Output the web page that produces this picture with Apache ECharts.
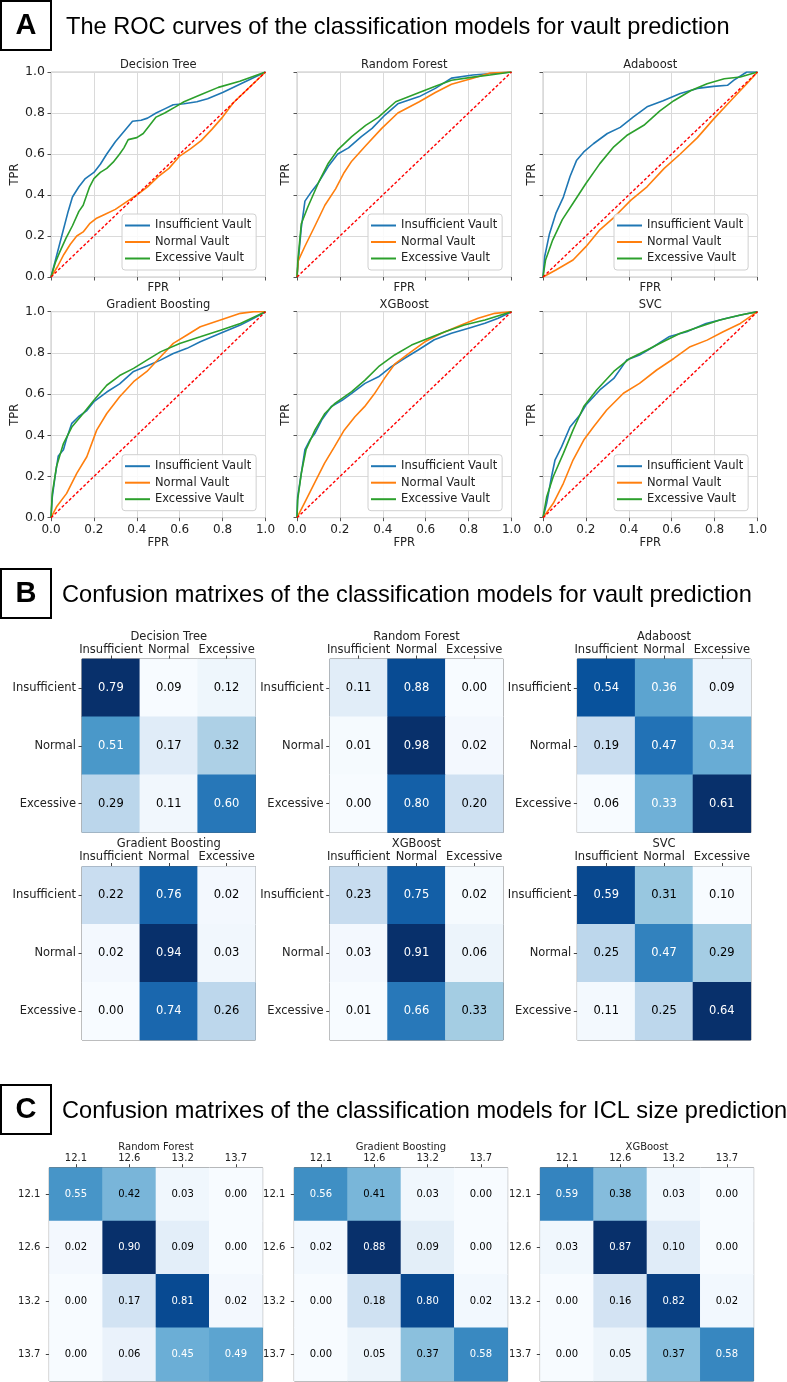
<!DOCTYPE html>
<html><head><meta charset="utf-8">
<script src="https://cdn.jsdelivr.net/npm/echarts@6/dist/echarts.min.js"></script>
<style>html,body{margin:0;padding:0;background:#fff}#c{width:787px;height:1382px}</style>
</head><body><div id="c"></div>
<script>
// ---------------- DATA ----------------
const ROC_MODELS = ['Decision Tree', 'Random Forest', 'Adaboost', 'Gradient Boosting', 'XGBoost', 'SVC'];
const ROC_CLASSES = ['Insufficient Vault', 'Normal Vault', 'Excessive Vault'];
const ROC_TICKS = [0, 0.2, 0.4, 0.6, 0.8, 1.0];

const dtInsufficient = [[0,0],[0.02,0.08],[0.05,0.20],[0.08,0.32],[0.10,0.39],[0.13,0.44],[0.16,0.48],[0.20,0.51],[0.23,0.55],[0.26,0.60],[0.30,0.66],[0.34,0.71],[0.38,0.76],[0.42,0.765],[0.45,0.775],[0.49,0.80],[0.53,0.82],[0.57,0.84],[0.62,0.845],[0.68,0.855],[0.73,0.87],[0.80,0.90],[0.90,0.95],[1,1]];
const dtNormal = [[0,0],[0.03,0.05],[0.06,0.11],[0.09,0.16],[0.12,0.20],[0.15,0.22],[0.18,0.26],[0.21,0.285],[0.25,0.305],[0.30,0.33],[0.35,0.365],[0.40,0.40],[0.45,0.44],[0.50,0.49],[0.55,0.53],[0.60,0.59],[0.65,0.625],[0.70,0.665],[0.75,0.72],[0.80,0.78],[0.85,0.85],[0.90,0.90],[1,1]];
const dtExcessive = [[0,0],[0.02,0.07],[0.04,0.12],[0.07,0.19],[0.10,0.25],[0.13,0.32],[0.15,0.35],[0.18,0.44],[0.20,0.48],[0.23,0.51],[0.26,0.53],[0.29,0.56],[0.32,0.60],[0.34,0.63],[0.36,0.67],[0.40,0.68],[0.43,0.70],[0.46,0.74],[0.49,0.78],[0.53,0.80],[0.58,0.83],[0.62,0.855],[0.70,0.89],[0.78,0.925],[0.88,0.955],[1,1]];

const rfInsufficient = [[0,0],[0.006,0.08],[0.02,0.24],[0.037,0.37],[0.07,0.42],[0.10,0.46],[0.146,0.54],[0.19,0.60],[0.24,0.63],[0.30,0.685],[0.35,0.725],[0.41,0.79],[0.47,0.845],[0.57,0.88],[0.645,0.92],[0.72,0.97],[0.82,0.985],[1,1]];
const rfNormal = [[0,0],[0.006,0.08],[0.037,0.15],[0.084,0.25],[0.13,0.35],[0.18,0.43],[0.22,0.51],[0.255,0.565],[0.32,0.64],[0.395,0.725],[0.47,0.80],[0.57,0.855],[0.645,0.90],[0.72,0.94],[0.82,0.97],[0.90,0.995],[1,1]];
const rfExcessive = [[0,0],[0.004,0.08],[0.02,0.26],[0.05,0.34],[0.10,0.46],[0.146,0.555],[0.19,0.62],[0.255,0.685],[0.32,0.74],[0.38,0.78],[0.46,0.855],[0.57,0.90],[0.645,0.93],[0.72,0.96],[0.82,0.975],[0.90,0.985],[1,1]];

const adaInsufficient = [[0,0],[0.008,0.10],[0.03,0.21],[0.06,0.31],[0.095,0.39],[0.126,0.49],[0.157,0.57],[0.19,0.61],[0.235,0.65],[0.30,0.70],[0.36,0.73],[0.42,0.78],[0.485,0.83],[0.56,0.86],[0.64,0.895],[0.72,0.92],[0.795,0.93],[0.86,0.935],[0.89,0.96],[0.95,1.0],[1,1]];
const adaNormal = [[0,0],[0.06,0.034],[0.14,0.083],[0.20,0.148],[0.265,0.23],[0.33,0.29],[0.41,0.375],[0.485,0.44],[0.565,0.53],[0.64,0.60],[0.72,0.68],[0.795,0.77],[0.875,0.86],[0.95,0.943],[1,1]];
const adaExcessive = [[0,0],[0.012,0.083],[0.045,0.18],[0.09,0.28],[0.14,0.36],[0.20,0.456],[0.265,0.553],[0.33,0.635],[0.39,0.69],[0.47,0.74],[0.545,0.81],[0.61,0.86],[0.69,0.91],[0.765,0.943],[0.845,0.967],[0.92,0.976],[1,1]];

const gbInsufficient = [[0,0],[0.006,0.10],[0.019,0.20],[0.034,0.30],[0.058,0.33],[0.073,0.385],[0.097,0.458],[0.128,0.49],[0.167,0.52],[0.20,0.563],[0.26,0.61],[0.32,0.65],[0.385,0.71],[0.447,0.736],[0.51,0.765],[0.57,0.797],[0.634,0.822],[0.696,0.854],[0.79,0.895],[0.883,0.935],[0.945,0.968],[1,1]];
const gbNormal = [[0,0],[0.026,0.053],[0.073,0.118],[0.12,0.215],[0.167,0.296],[0.213,0.425],[0.26,0.506],[0.32,0.587],[0.385,0.66],[0.447,0.71],[0.51,0.78],[0.57,0.846],[0.634,0.887],[0.696,0.927],[0.79,0.96],[0.883,0.992],[0.945,1],[1,1]];
const gbExcessive = [[0,0],[0.006,0.118],[0.026,0.25],[0.058,0.36],[0.097,0.44],[0.15,0.506],[0.20,0.57],[0.26,0.643],[0.32,0.69],[0.385,0.725],[0.447,0.765],[0.51,0.805],[0.60,0.846],[0.696,0.878],[0.79,0.91],[0.883,0.943],[1,1]];

const xgbInsufficient = [[0,0],[0.003,0.10],[0.02,0.215],[0.037,0.33],[0.06,0.377],[0.084,0.41],[0.115,0.474],[0.16,0.54],[0.21,0.57],[0.255,0.604],[0.317,0.652],[0.38,0.684],[0.44,0.733],[0.50,0.773],[0.565,0.814],[0.64,0.864],[0.72,0.895],[0.80,0.92],[0.876,0.944],[0.938,0.968],[1,1]];
const xgbNormal = [[0,0],[0.034,0.07],[0.081,0.167],[0.128,0.264],[0.175,0.345],[0.22,0.425],[0.27,0.49],[0.315,0.539],[0.36,0.60],[0.41,0.68],[0.455,0.745],[0.517,0.794],[0.596,0.854],[0.674,0.895],[0.766,0.935],[0.844,0.968],[0.922,0.992],[1,1]];
const xgbExcessive = [[0,0],[0.003,0.086],[0.02,0.215],[0.042,0.33],[0.084,0.426],[0.13,0.506],[0.177,0.555],[0.255,0.612],[0.317,0.668],[0.38,0.733],[0.455,0.79],[0.534,0.838],[0.61,0.87],[0.69,0.903],[0.78,0.935],[0.876,0.96],[1,1]];

const svcInsufficient = [[0,0],[0.017,0.07],[0.04,0.20],[0.056,0.28],[0.087,0.345],[0.126,0.44],[0.172,0.498],[0.20,0.547],[0.265,0.62],[0.33,0.676],[0.39,0.765],[0.45,0.79],[0.515,0.83],[0.59,0.88],[0.67,0.903],[0.76,0.943],[0.856,0.968],[0.95,0.99],[1,1]];
const svcNormal = [[0,0],[0.048,0.07],[0.095,0.167],[0.14,0.28],[0.19,0.377],[0.235,0.44],[0.297,0.523],[0.375,0.604],[0.45,0.652],[0.53,0.717],[0.61,0.773],[0.686,0.83],[0.765,0.862],[0.84,0.903],[0.92,0.943],[1,1]];
const svcExcessive = [[0,0],[0.017,0.10],[0.048,0.20],[0.095,0.312],[0.14,0.425],[0.19,0.54],[0.25,0.62],[0.33,0.71],[0.405,0.773],[0.485,0.814],[0.56,0.854],[0.64,0.895],[0.73,0.927],[0.825,0.96],[0.92,0.984],[1,1]];

const chanceLine = [[0,0],[1,1]];

// Confusion matrices for vault prediction (rows = true, cols = predicted)
const VAULT_LABELS = ['Insufficient', 'Normal', 'Excessive'];
const VAULT_MODELS = ['Decision Tree', 'Random Forest', 'Adaboost', 'Gradient Boosting', 'XGBoost', 'SVC'];
const cmDecisionTree = [[0.79,0.09,0.12],[0.51,0.17,0.32],[0.29,0.11,0.60]];
const cmRandomForest = [[0.11,0.88,0.00],[0.01,0.98,0.02],[0.00,0.80,0.20]];
const cmAdaboost = [[0.54,0.36,0.09],[0.19,0.47,0.34],[0.06,0.33,0.61]];
const cmGradientBoosting = [[0.22,0.76,0.02],[0.02,0.94,0.03],[0.00,0.74,0.26]];
const cmXGBoost = [[0.23,0.75,0.02],[0.03,0.91,0.06],[0.01,0.66,0.33]];
const cmSVC = [[0.59,0.31,0.10],[0.25,0.47,0.29],[0.11,0.25,0.64]];

// Confusion matrices for ICL size prediction
const ICL_LABELS = ['12.1', '12.6', '13.2', '13.7'];
const ICL_MODELS = ['Random Forest', 'Gradient Boosting', 'XGBoost'];
const iclRandomForest = [[0.55,0.42,0.03,0.00],[0.02,0.90,0.09,0.00],[0.00,0.17,0.81,0.02],[0.00,0.06,0.45,0.49]];
const iclGradientBoosting = [[0.56,0.41,0.03,0.00],[0.02,0.88,0.09,0.00],[0.00,0.18,0.80,0.02],[0.00,0.05,0.37,0.58]];
const iclXGBoost = [[0.59,0.38,0.03,0.00],[0.03,0.87,0.10,0.00],[0.00,0.16,0.82,0.02],[0.00,0.05,0.37,0.58]];

const SECTION_TITLES = [
  'The ROC curves of the classification models for vault prediction',
  'Confusion matrixes of the classification models for vault prediction',
  'Confusion matrixes of the classification models for ICL size prediction'
];
const SECTION_LETTERS = ['A', 'B', 'C'];

// ---------------- BUILD ----------------
const FONT = 'DejaVu Sans';
const HFONT = 'Liberation Sans';
const BLUES = ['#f7fbff','#deebf7','#c6dbef','#9ecae1','#6baed6','#4292c6','#2171b5','#08519c','#08306b'];
const ROC_COLORS = ['#1f77b4', '#ff7f0e', '#2ca02c'];

const rocData = [
  [dtInsufficient, dtNormal, dtExcessive],
  [rfInsufficient, rfNormal, rfExcessive],
  [adaInsufficient, adaNormal, adaExcessive],
  [gbInsufficient, gbNormal, gbExcessive],
  [xgbInsufficient, xgbNormal, xgbExcessive],
  [svcInsufficient, svcNormal, svcExcessive]
];
const vaultCMs = [cmDecisionTree, cmRandomForest, cmAdaboost, cmGradientBoosting, cmXGBoost, cmSVC];
const iclCMs = [iclRandomForest, iclGradientBoosting, iclXGBoost];

const grid = [], xAxis = [], yAxis = [], series = [], legend = [], visualMap = [], graphic = [];

function txt(x, y, text, size, opts) {
  opts = opts || {};
  graphic.push({
    type: 'text', x: x, y: y, silent: true,
    style: {
      text: text,
      fontSize: size, fontFamily: opts.family || FONT, fontWeight: opts.weight || 'normal',
      fill: opts.color || '#111',
      align: opts.align || 'center', textAlign: opts.align || 'center',
      verticalAlign: 'middle', textVerticalAlign: 'middle'
    }
  });
}

// Section headers
const headerY = [1, 569, 1085];
const headerTextX = [66, 62, 62];
SECTION_LETTERS.forEach((L, i) => {
  graphic.push({ type: 'rect', silent: true, shape: { x: 1, y: headerY[i], width: 50, height: 49 },
    style: { fill: 'none', stroke: '#000', lineWidth: 2 } });
  txt(26, headerY[i] + 25, L, 29, { family: HFONT, weight: 'bold', color: '#000' });
  txt(headerTextX[i], headerY[i] + 26, SECTION_TITLES[i], 23.6, { family: HFONT, align: 'left', color: '#000' });
});

// ---- Section A: ROC curves ----
const rocLeft = [51, 297, 543], rocTop = [72, 311.7], rocH = [205, 206], rocW = 214.5;
ROC_MODELS.forEach((model, i) => {
  const r = Math.floor(i / 3), c = i % 3;
  const gi = grid.length;
  grid.push({ left: rocLeft[c], top: rocTop[r], width: rocW, height: rocH[r], show: true,
    borderColor: '#c4c4c4', borderWidth: 1, backgroundColor: '#fff' });
  xAxis.push({
    type: 'value', gridIndex: gi, min: 0, max: 1, interval: 0.2,
    name: 'FPR', nameLocation: 'middle', nameGap: r === 0 ? 5 : 19,
    nameTextStyle: { fontFamily: FONT, fontSize: 11.5, color: '#222', verticalAlign: 'top' },
    axisLine: { show: false, onZero: false },
    axisTick: { show: true, length: 3.5, lineStyle: { color: '#555' } },
    axisLabel: { show: r === 1, fontFamily: FONT, fontSize: 12, color: '#222', margin: 6,
      formatter: v => v.toFixed(1) },
    splitLine: { show: true, lineStyle: { color: '#dadada', width: 1 } }
  });
  yAxis.push({
    type: 'value', gridIndex: gi, min: 0, max: 1, interval: 0.2,
    name: 'TPR', nameLocation: 'middle', nameGap: c === 0 ? 25 : 5, nameRotate: 90,
    nameTextStyle: { fontFamily: FONT, fontSize: 11.5, color: '#222' },
    axisLine: { show: false, onZero: false },
    axisTick: { show: true, length: 3.5, lineStyle: { color: '#555' } },
    axisLabel: { show: c === 0, fontFamily: FONT, fontSize: 12.5, color: '#222', margin: 6,
      formatter: v => v.toFixed(1) },
    splitLine: { show: true, lineStyle: { color: '#dadada', width: 1 } }
  });
  ROC_CLASSES.forEach((cls, k) => {
    series.push({
      type: 'line', name: cls, xAxisIndex: gi, yAxisIndex: gi,
      data: rocData[i][k], showSymbol: false, symbol: 'none', smooth: false,
      lineStyle: { color: ROC_COLORS[k], width: 1.6 }, itemStyle: { color: ROC_COLORS[k] },
      emphasis: { disabled: true }, silent: true, z: 3
    });
  });
  series.push({
    type: 'line', name: 'chance', xAxisIndex: gi, yAxisIndex: gi, data: chanceLine,
    showSymbol: false, symbol: 'none',
    lineStyle: { color: '#ff0000', width: 1.4, type: [3, 2] }, emphasis: { disabled: true }, silent: true, z: 4
  });
  txt(rocLeft[c] + rocW / 2, rocTop[r] - 7, model, 11.5, { color: '#222' });
  legend.push({
    data: ROC_CLASSES, orient: 'vertical', selectedMode: false,
    left: rocLeft[c] + 71, top: rocTop[r] + rocH[r] - 63,
    icon: 'rect', itemWidth: 25, itemHeight: 2, itemGap: 3.5, itemTextGap: 9,
    padding: [5, 5, 5, 3], backgroundColor: 'rgba(255,255,255,0.85)',
    borderColor: '#d0d0d0', borderWidth: 1, borderRadius: 3,
    textStyle: { fontFamily: FONT, fontSize: 11.5, color: '#222', lineHeight: 13 }
  });
});

// ---- Confusion matrix helper ----
function addMatrix(mat, labels, left, top, size, title, fs, titleDy, labMargin, yMargin) {
  const gi = grid.length;
  grid.push({ left: left, top: top, width: size, height: size, show: true,
    borderColor: '#555', borderWidth: 1 });
  xAxis.push({
    type: 'category', gridIndex: gi, data: labels, position: 'top',
    axisLine: { show: false }, splitLine: { show: false },
    axisTick: { show: true, alignWithLabel: true, length: 3.5, lineStyle: { color: '#444' } },
    axisLabel: { interval: 0, hideOverlap: false, fontFamily: FONT, fontSize: fs, color: '#222', margin: labMargin }
  });
  yAxis.push({
    type: 'category', gridIndex: gi, data: labels, inverse: true,
    axisLine: { show: false }, splitLine: { show: false },
    axisTick: { show: true, alignWithLabel: true, length: 3.5, lineStyle: { color: '#444' } },
    axisLabel: { interval: 0, fontFamily: FONT, fontSize: fs, color: '#222', margin: yMargin }
  });
  let mn = Infinity, mx = -Infinity;
  mat.forEach(row => row.forEach(v => { mn = Math.min(mn, v); mx = Math.max(mx, v); }));
  const data = [];
  mat.forEach((row, i) => row.forEach((v, j) => {
    data.push({ value: [j, i, v], label: { color: v >= mx / 2 ? '#ffffff' : '#000000' } });
  }));
  const si = series.length;
  series.push({
    type: 'heatmap', xAxisIndex: gi, yAxisIndex: gi, data: data,
    itemStyle: { borderWidth: 0 }, emphasis: { disabled: true }, silent: true,
    label: { show: true, fontFamily: FONT, fontSize: fs, formatter: p => p.value[2].toFixed(2) }
  });
  visualMap.push({ type: 'continuous', show: false, seriesIndex: si, dimension: 2,
    min: mn, max: mx, inRange: { color: BLUES } });
  txt(left + size / 2, top - titleDy, title, fs, { color: '#222' });
}

// ---- Section B ----
const bLeft = [82, 329.7, 577.3], bTop = [659, 866.5], bSize = 173.5;
VAULT_MODELS.forEach((m, i) => {
  const r = Math.floor(i / 3), c = i % 3;
  addMatrix(vaultCMs[i], VAULT_LABELS, bLeft[c], bTop[r], bSize, m, 11.5, 22, 3, 6);
});

// ---- Section C ----
const cLeft = [49.3, 294.3, 540.3], cTop = 1167.7, cSize = 213.3;
ICL_MODELS.forEach((m, i) => {
  addMatrix(iclCMs[i], ICL_LABELS, cLeft[i], cTop, cSize, m, 10, 20, 4, 9);
});

const chart = echarts.init(document.getElementById('c'), null, { renderer: 'canvas', width: 787, height: 1382 });
chart.setOption({
  animation: false,
  backgroundColor: '#fff',
  grid: grid, xAxis: xAxis, yAxis: yAxis, series: series,
  legend: legend, visualMap: visualMap, graphic: graphic
});
</script>
</body></html>
